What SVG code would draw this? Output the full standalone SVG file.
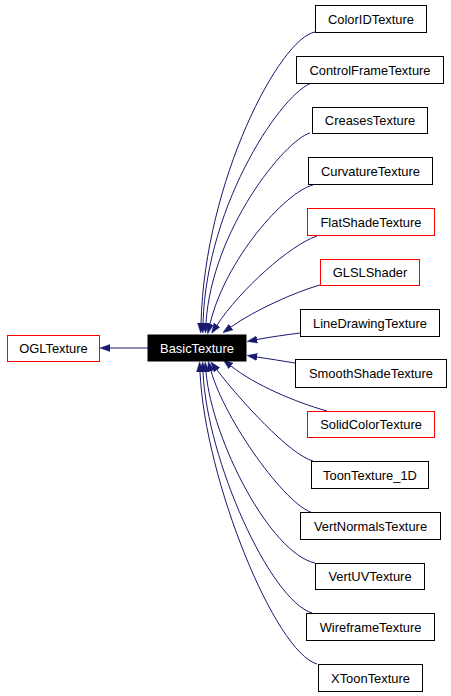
<svg xmlns="http://www.w3.org/2000/svg" width="451" height="696" viewBox="0 0 451 696">
<style>
.n rect{fill:#fff;stroke:#000;stroke-width:1}
.n.r rect{stroke:#ff0000}
.n text{font-family:"Liberation Sans",Arial,sans-serif;font-size:12.9px;text-anchor:middle;fill:#000}
#BasicTexture rect{fill:#000;stroke:#000}
#BasicTexture text{fill:#fff}
.e path{fill:none;stroke:#191970;stroke-width:1;marker-end:url(#ah)}
</style>
<defs>
<marker id="ah" markerUnits="userSpaceOnUse" markerWidth="10" markerHeight="8" viewBox="0 0 10 7" refX="0" refY="3.5" orient="auto">
<path d="M0,0 L10,3.5 L0,7 z" fill="#191970" stroke="#191970" stroke-width="0.5"/>
</marker>
</defs>
<rect width="451" height="696" fill="#fff"/>
<g id="edges" class="e">
<path d="M148,348 L110,348"/>
<path d="M315,32 C280,38 205,180 201,323"/>
<path d="M312,83 C285,90 207,200 203,323"/>
<path d="M310,133 C285,140 212,230 206,323"/>
<path d="M313,185 C285,192 225,260 210,324"/>
<path d="M317,236 C290,245 240,290 217,325"/>
<path d="M320,285 C295,292 255,310 231,327"/>
<path d="M300,333 C285,335 270,337 257,339.5"/>
<path d="M295,363 C283,361 270,359 257,357"/>
<path d="M327,411 C295,402 255,385 231,366"/>
<path d="M313,461 C290,455 240,400 217,370"/>
<path d="M313,513 C285,505 225,420 211,371"/>
<path d="M315,563 C270,553 212,440 206,372"/>
<path d="M312,613 C270,600 207,460 203,372"/>
<path d="M317,664 C275,652 205,480 200,372"/>
</g>
<g id="OGLTexture" class="n r"><rect x="7.5" y="335.5" width="92" height="26"/><text x="53.5" y="353">OGLTexture</text></g>
<g id="BasicTexture" class="n"><rect x="148" y="335" width="98" height="26"/><text x="197" y="352.5">BasicTexture</text></g>
<g id="ColorIDTexture" class="n"><rect x="315.5" y="5.5" width="111" height="27"/><text x="371" y="23.5">ColorIDTexture</text></g>
<g id="ControlFrameTexture" class="n"><rect x="296.5" y="56.5" width="147" height="27"/><text x="370" y="74.5">ControlFrameTexture</text></g>
<g id="CreasesTexture" class="n"><rect x="312.5" y="107.5" width="115" height="26"/><text x="370" y="125">CreasesTexture</text></g>
<g id="CurvatureTexture" class="n"><rect x="308.5" y="157.5" width="124" height="27"/><text x="370.5" y="175.5">CurvatureTexture</text></g>
<g id="FlatShadeTexture" class="n r"><rect x="307.5" y="208.5" width="127" height="27"/><text x="371" y="226.5">FlatShadeTexture</text></g>
<g id="GLSLShader" class="n r"><rect x="320.5" y="259.5" width="99" height="26"/><text x="370" y="277">GLSLShader</text></g>
<g id="LineDrawingTexture" class="n"><rect x="300.5" y="309.5" width="139" height="27"/><text x="370" y="327.5">LineDrawingTexture</text></g>
<g id="SmoothShadeTexture" class="n"><rect x="295.5" y="359.5" width="151" height="28"/><text x="371" y="378">SmoothShadeTexture</text></g>
<g id="SolidColorTexture" class="n r"><rect x="307.5" y="411.5" width="127" height="26"/><text x="371" y="429">SolidColorTexture</text></g>
<g id="ToonTexture_1D" class="n"><rect x="311.5" y="461.5" width="117" height="27"/><text x="370" y="479.5">ToonTexture_1D</text></g>
<g id="VertNormalsTexture" class="n"><rect x="300.5" y="512.5" width="140" height="27"/><text x="370.5" y="530.5">VertNormalsTexture</text></g>
<g id="VertUVTexture" class="n"><rect x="315.5" y="563.5" width="109" height="26"/><text x="370" y="581">VertUVTexture</text></g>
<g id="WireframeTexture" class="n"><rect x="306.5" y="613.5" width="128" height="27"/><text x="370.5" y="631.5">WireframeTexture</text></g>
<g id="XToonTexture" class="n"><rect x="318.5" y="664.5" width="104" height="27"/><text x="370.5" y="682.5">XToonTexture</text></g>
</svg>
